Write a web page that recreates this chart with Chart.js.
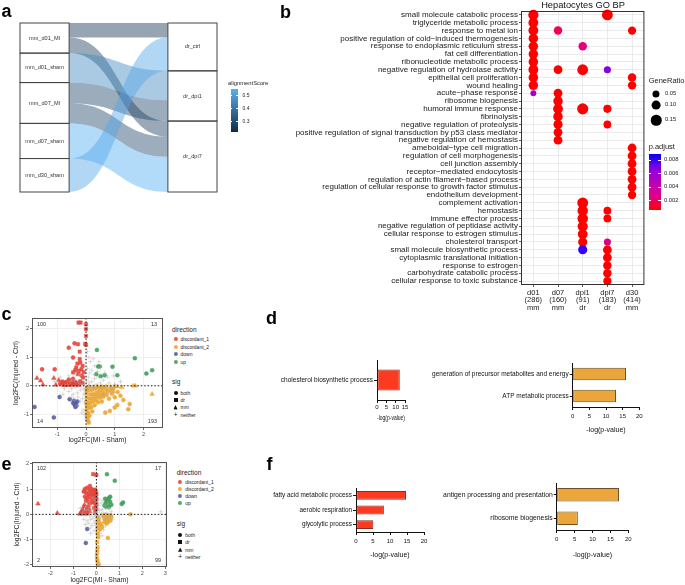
<!DOCTYPE html>
<html>
<head>
<meta charset="utf-8">
<title>Hepatocyte alignment figure</title>
<script src="https://cdn.jsdelivr.net/npm/chart.js@4.4.1/dist/chart.umd.min.js"></script>
<style>
  html, body { margin: 0; padding: 0; background: #fff; }
  #fig { position: relative; width: 685px; height: 585px; overflow: hidden; font-family: "Liberation Sans", Arial, sans-serif; color: #222; }
  #fig canvas { position: absolute; }
  .t { position: absolute; white-space: nowrap; line-height: 1; transform: translateY(-50%); }
  .tag { position: absolute; font-weight: bold; font-size: 18px; line-height: 18px; color: #000; }
  .key { position: absolute; transform: translate(-50%, -50%); line-height: 1; }
</style>
</head>
<body>
<div id="fig"></div>
<script>
// ---------- panel a: alluvial ----------
const leftNodes = ['mm_d01_MI', 'mm_d01_sham', 'mm_d07_MI', 'mm_d07_sham', 'mm_d30_sham'];
const rightNodes = ['dr_ctrl', 'dr_dpi1', 'dr_dpi7'];
const flowFrom = [0, 0, 1, 2, 2, 3, 4];
const flowTo = [0, 2, 1, 1, 2, 2, 0];
const flowSize = [43, 47, 88, 62, 60, 105, 100];
const flowScore = [0.25, 0.27, 0.45, 0.29, 0.30, 0.54, 0.52];
const scoreTicks = [0.5, 0.4, 0.3];

// ---------- panel b: GO dot plot ----------
const bCols = ['d01', 'd07', 'dpi1', 'dpi7', 'd30'];
const bColCounts = ['(286)', '(160)', '(91)', '(183)', '(414)'];
const bColSpecies = ['mm', 'mm', 'dr', 'dr', 'mm'];
const bRows = [
  'small molecule catabolic process', 'triglyceride metabolic process', 'response to metal ion',
  'positive regulation of cold\u2212induced thermogenesis', 'response to endoplasmic reticulum stress',
  'fat cell differentiation', 'ribonucleotide metabolic process', 'negative regulation of hydrolase activity',
  'epithelial cell proliferation', 'wound healing', 'acute\u2212phase response', 'ribosome biogenesis',
  'humoral immune response', 'fibrinolysis', 'negative regulation of proteolysis',
  'positive regulation of signal transduction by p53 class mediator', 'negative regulation of hemostasis',
  'ameboidal\u2212type cell migration', 'regulation of cell morphogenesis', 'cell junction assembly',
  'receptor\u2212mediated endocytosis', 'regulation of actin filament\u2212based process',
  'regulation of cellular response to growth factor stimulus', 'endothelium development',
  'complement activation', 'hemostasis', 'immune effector process', 'negative regulation of peptidase activity',
  'cellular response to estrogen stimulus', 'cholesterol transport', 'small molecule biosynthetic process',
  'cytoplasmic translational initiation', 'response to estrogen', 'carbohydrate catabolic process',
  'cellular response to toxic substance'
];
// [row, column, GeneRatio, p.adjust]
const bDots = [
  [0, 0, 0.14, 0.0002], [0, 3, 0.16, 0.0002],
  [1, 0, 0.13, 0.0002],
  [2, 0, 0.13, 0.0002], [2, 1, 0.09, 0.0014], [2, 4, 0.085, 0.0003],
  [3, 0, 0.12, 0.0002],
  [4, 0, 0.12, 0.0002], [4, 2, 0.09, 0.0023],
  [5, 0, 0.12, 0.0002],
  [6, 0, 0.12, 0.0002],
  [7, 0, 0.13, 0.0002], [7, 1, 0.10, 0.0003], [7, 2, 0.16, 0.0003], [7, 3, 0.05, 0.0068],
  [8, 0, 0.12, 0.0002], [8, 4, 0.09, 0.0003],
  [9, 0, 0.12, 0.0002], [9, 4, 0.09, 0.0003],
  [10, 0, 0.015, 0.0056], [10, 1, 0.10, 0.0003],
  [11, 1, 0.12, 0.0002],
  [12, 1, 0.13, 0.0002], [12, 2, 0.17, 0.0002], [12, 3, 0.08, 0.0004],
  [13, 1, 0.12, 0.0002],
  [14, 1, 0.11, 0.0002], [14, 3, 0.07, 0.0004],
  [15, 1, 0.10, 0.0003],
  [16, 1, 0.10, 0.0003],
  [17, 4, 0.10, 0.0002], [18, 4, 0.10, 0.0002], [19, 4, 0.10, 0.0002], [20, 4, 0.10, 0.0002],
  [21, 4, 0.10, 0.0002], [22, 4, 0.10, 0.0002], [23, 4, 0.085, 0.0003],
  [24, 2, 0.16, 0.0002],
  [25, 2, 0.15, 0.0002], [25, 3, 0.07, 0.0004],
  [26, 2, 0.15, 0.0002], [26, 3, 0.07, 0.0004],
  [27, 2, 0.14, 0.0002],
  [28, 2, 0.13, 0.0002],
  [29, 2, 0.11, 0.0003], [29, 3, 0.05, 0.0027],
  [30, 2, 0.11, 0.0086], [30, 3, 0.10, 0.0003],
  [31, 3, 0.10, 0.0003], [32, 3, 0.09, 0.0003], [33, 3, 0.09, 0.0003], [34, 3, 0.08, 0.0004]
];
const ratioTicks = [0.05, 0.10, 0.15];
const padjTicks = [0.008, 0.006, 0.004, 0.002];

// ---------- panel c: scatter (MI vs injury, set 1) ----------
const cDiscordant1 = [
  [-0.26, 2.22, 'dr'], [-0.19, 2.22, 'dr'], [0, 2.16, 'dr'], [0, 1.99, 'dr'], [0, 1.75, 'dr'], [-0.03, 1.47, 'dr'],
  [0, 1.44, 'dr'], [-0.4, 1.49, 'both'], [-0.28, 1.46, 'dr'], [-0.6, 1.34, 'both'], [-0.22, 1.2, 'dr'],
  [-0.45, 0.99, 'both'], [-0.22, 0.94, 'dr'], [-0.3, 0.78, 'dr'], [-0.2, 0.82, 'dr'], [-0.12, 0.7, 'dr'],
  [-0.34, 0.64, 'dr'], [-0.16, 0.58, 'dr'], [-1.53, 0.58, 'both'], [-1.09, 0.58, 'both'], [-0.45, 0.47, 'dr'],
  [-0.38, 0.55, 'both'], [-0.25, 0.52, 'dr'], [-0.08, 0.48, 'dr'], [-0.28, 0.41, 'dr'], [-0.15, 0.36, 'dr'],
  [-0.1, 0.29, 'dr'],
  [-1.71, 0.27, 'mm'], [-1.58, 0.18, 'mm'], [-1.5, 0.04, 'mm'], [-1.12, 0.27, 'mm'], [-0.95, 0.2, 'mm'],
  [-1.05, 0.03, 'mm'], [-0.85, 0.08, 'mm'], [-0.78, 0.02, 'mm'], [-0.72, 0.12, 'mm'], [-0.68, 0.02, 'mm'],
  [-0.62, 0.05, 'mm'], [-0.55, 0.15, 'mm'], [-0.48, 0.08, 'mm'], [-0.4, 0.03, 'mm'], [-0.35, 0.12, 'mm'],
  [-0.9, 0.08, 'both'], [-0.82, 0.15, 'both'], [-0.75, 0.1, 'both'], [-0.7, 0.04, 'both'], [-0.65, 0.13, 'both'],
  [-0.6, 0.22, 'both'], [-0.58, 0.06, 'both'], [-0.5, 0.1, 'both'], [-0.45, 0.25, 'both'], [-0.42, 0.14, 'both'],
  [-0.33, 0.06, 'both'], [-0.28, 0.1, 'both'],
  [-0.65, 0.08, 'dr'], [-0.52, 0.04, 'dr'], [-0.38, 0.06, 'dr'], [-0.25, 0.04, 'dr'], [-0.2, 0.16, 'dr'], [-0.12, 0.1, 'dr']
];
const cDiscordant2 = [
  [0.02, -0.1, 'dr'], [0.02, -0.25, 'dr'], [0.03, -0.4, 'dr'], [0.02, -0.55, 'dr'], [0.03, -0.7, 'dr'],
  [0.02, -0.85, 'dr'], [0.04, -1.0, 'dr'], [0.05, -1.12, 'dr'], [0.06, -1.22, 'dr'], [0.1, -1.29, 'dr'],
  [0.08, -0.95, 'dr'], [0.1, -0.78, 'dr'], [0.1, -0.6, 'dr'], [0.12, -0.45, 'dr'], [0.15, -0.3, 'dr'], [0.08, -0.15, 'dr'],
  [0.2, -0.15, 'both'], [0.3, -0.1, 'both'], [0.4, -0.08, 'both'], [0.5, -0.05, 'both'], [0.6, -0.06, 'both'],
  [0.25, -0.3, 'both'], [0.35, -0.25, 'both'], [0.45, -0.2, 'both'], [0.55, -0.15, 'both'], [0.7, -0.12, 'both'],
  [0.2, -0.45, 'both'], [0.3, -0.4, 'both'], [0.4, -0.35, 'both'], [0.5, -0.3, 'both'], [0.62, -0.25, 'both'],
  [0.75, -0.2, 'both'], [0.85, -0.15, 'both'], [0.15, -0.6, 'both'], [0.25, -0.55, 'both'], [0.35, -0.5, 'both'],
  [0.48, -0.42, 'both'], [0.6, -0.38, 'both'], [0.72, -0.32, 'both'], [0.9, -0.28, 'both'], [0.18, -0.75, 'both'],
  [0.3, -0.68, 'both'], [0.42, -0.58, 'both'], [0.8, -0.45, 'both'], [1.0, -0.4, 'both'], [1.2, -0.35, 'both'],
  [1.1, -0.22, 'both'], [0.95, -0.1, 'both'], [0.22, -0.9, 'both'], [0.12, -1.05, 'both'], [0.55, -0.55, 'both'],
  [1.3, -0.5, 'both'], [1.09, -0.67, 'both'], [1.52, -0.64, 'both'], [1.47, -0.82, 'both'], [0.67, -0.94, 'both'],
  [0.83, -0.88, 'both'], [1.0, -0.76, 'both'],
  [0.1, -0.03, 'mm'], [0.25, -0.04, 'mm'], [0.4, -0.02, 'mm'], [0.55, -0.03, 'mm'], [0.7, -0.02, 'mm'],
  [0.85, -0.04, 'mm'], [1.0, -0.02, 'mm'], [1.1, -0.03, 'mm'], [1.25, -0.05, 'mm'], [1.64, 0, 'mm'],
  [1.72, 0, 'mm'], [2.3, -0.29, 'mm'], [0.95, -0.2, 'mm'], [0.6, -0.3, 'mm']
];
const cDown = [
  [-1.79, -0.74, 'both'], [-1.12, -1.11, 'both'], [-0.92, -0.39, 'both'], [-0.57, -0.47, 'both'], [-0.42, -0.52, 'both'],
  [-0.38, -0.58, 'both'], [-0.35, -0.62, 'both'], [-0.4, -0.66, 'both'], [-0.33, -0.7, 'both'], [-0.37, -0.74, 'both'],
  [-0.3, -0.55, 'both'], [-0.45, -0.6, 'both']
];
const cUp = [
  [0.38, 1.26, 'both'], [0.42, 0.68, 'both'], [0.48, 0.68, 'both'], [0.92, 0.67, 'both'], [1.7, 0.97, 'both'],
  [0.36, 0.41, 'both'], [0.51, 0.34, 'both'], [0.65, 0.37, 'both'], [1.09, 0.37, 'both'], [2.1, 0.43, 'both'], [2.3, 0.55, 'both']
];
const cNeither = [
  [-0.05, 0.05], [0.05, -0.05], [0.1, 0.1], [-0.1, -0.1], [0.15, -0.02], [-0.15, 0.02], [0.02, 0.18], [-0.02, -0.18],
  [0.2, 0.15], [-0.2, -0.15], [0.25, -0.1], [-0.25, 0.1], [0.08, 0.3], [-0.08, -0.3], [0.3, 0.25], [-0.3, -0.25],
  [0.35, 0.05], [-0.35, -0.05], [0.12, 0.45], [-0.12, -0.45], [0.4, -0.2], [-0.4, 0.2], [0.45, 0.3], [-0.45, -0.3],
  [0.05, 0.6], [-0.05, -0.6], [0.5, 0.1], [-0.5, -0.1], [0.2, 0.55], [-0.2, -0.55], [0.55, -0.1], [-0.55, 0.15],
  [0.3, 0.7], [-0.3, -0.7], [0.6, 0.2], [-0.6, -0.2], [0.15, 0.85], [-0.1, -0.85], [0.7, -0.05], [-0.65, 0.05],
  [0.4, 0.5], [-0.4, -0.5], [0.1, 1.0], [-0.05, -1.0], [0.8, 0.1], [-0.75, -0.1], [0.25, 0.95], [0.0, -1.15],
  [0.9, -0.1], [0.5, 0.65], [0.35, -0.4], [-0.35, 0.4], [0.65, 0.45], [0.05, 1.2], [-0.15, -0.95], [1.0, 0.05],
  [-0.9, 0.3], [0.75, 0.3], [-0.2, 0.35], [0.18, -0.35], [0.28, 0.4], [-0.28, -0.4], [0.85, -0.25], [0.6, -0.3],
  [-0.6, 0.35], [0.45, 0.85], [-0.5, -0.4], [0.12, -0.7], [-1.1, 0.15], [1.2, 0.15], [0.95, 0.35], [-0.8, -0.3]
];
const cCounts = ['100', '13', '14', '193'];

// ---------- panel d: enrichment bars ----------
const dLeftTerms = ['cholesterol biosynthetic process'];
const dLeftVals = [12.2];
const dRightTerms = ['generation of precursor metabolites and energy', 'ATP metabolic process'];
const dRightVals = [16.0, 13.0];

// ---------- panel e: scatter (set 2) ----------
const eDiscordant1 = [
  [-0.14, 1.59, 'dr'], [0, 1.56, 'dr'], [-0.02, 0.9, 'dr'], [0, 0.8, 'dr'], [-0.03, 0.7, 'dr'], [0, 0.6, 'dr'],
  [-0.02, 0.5, 'dr'], [0, 0.4, 'dr'], [-0.03, 0.3, 'dr'], [0, 0.2, 'dr'], [-0.05, 0.1, 'dr'], [-0.08, 0.85, 'dr'],
  [-0.1, 0.65, 'dr'], [-0.07, 0.45, 'dr'], [-0.1, 0.25, 'dr'], [-0.12, 0.75, 'dr'], [-0.06, 0.98, 'dr'],
  [-0.5, 1.0, 'both'], [-0.4, 1.05, 'both'], [-0.3, 0.95, 'both'], [-0.22, 1.0, 'both'], [-0.45, 0.85, 'both'],
  [-0.35, 0.8, 'both'], [-0.25, 0.85, 'both'], [-0.18, 0.78, 'both'], [-0.5, 0.7, 'both'], [-0.4, 0.65, 'both'],
  [-0.3, 0.7, 'both'], [-0.2, 0.6, 'both'], [-0.45, 0.55, 'both'], [-0.35, 0.5, 'both'], [-0.25, 0.45, 'both'],
  [-0.15, 0.5, 'both'], [-0.28, 1.12, 'both'], [-0.55, 0.9, 'both'], [-0.15, 0.95, 'both'],
  [-0.72, 0.02, 'mm'], [-0.65, 0.1, 'mm'], [-0.6, 0.2, 'mm'], [-0.55, 0.3, 'mm'], [-0.5, 0.05, 'mm'],
  [-0.45, 0.15, 'mm'], [-0.4, 0.25, 'mm'], [-0.35, 0.35, 'mm'], [-0.38, 0.05, 'mm'], [-0.3, 0.12, 'mm'],
  [-0.52, 0.38, 'mm'], [-0.62, 0.02, 'mm'], [-0.45, 0.02, 'mm'], [-0.32, 0.22, 'mm'], [-0.58, 0.12, 'mm'],
  [-0.68, 0.06, 'mm'], [-2.54, 0.42, 'mm'], [-1.7, 0.05, 'mm']
];
const eDiscordant2 = [
  [0.3, -0.05, 'both'], [0.4, -0.02, 'both'], [0.5, -0.05, 'both'], [0.6, -0.03, 'both'], [0.35, -0.15, 'both'],
  [0.45, -0.12, 'both'], [0.55, -0.18, 'both'], [0.65, -0.1, 'both'], [0.4, -0.25, 'both'], [0.5, -0.3, 'both'],
  [0.6, -0.25, 'both'], [0.45, -0.35, 'both'], [0.35, -0.3, 'both'], [0.2, -0.4, 'both'], [0.25, -0.5, 'both'],
  [0.15, -0.35, 'both'], [0.15, -0.6, 'both'], [0.5, -0.93, 'both'], [1.48, 0, 'both'],
  [0.05, -0.1, 'dr'], [0.1, -0.2, 'dr'], [0.05, -0.3, 'dr'], [0.1, -0.45, 'dr'], [0.05, -0.55, 'dr'],
  [0.05, -0.75, 'dr'], [0.08, -0.9, 'dr'], [0.03, -1.1, 'dr'], [0.05, -1.3, 'dr'], [0.04, -1.45, 'dr'],
  [0.02, -1.6, 'dr'], [0.03, -1.75, 'dr'], [0.05, -1.85, 'dr'], [0.07, -1.95, 'dr'], [0.1, -2.0, 'dr']
];
const eDown = [[-0.4, -0.58, 'both'], [-0.46, -1.13, 'both']];
const eUp = [
  [0.46, 1.59, 'both'], [0.8, 1.33, 'both'], [0.35, 0.35, 'both'], [0.4, 0.45, 'both'], [0.45, 0.55, 'both'],
  [0.5, 0.6, 'both'], [0.55, 0.65, 'both'], [0.6, 0.7, 'both'], [0.38, 0.62, 'both'], [0.5, 0.4, 'both'],
  [0.6, 0.5, 'both'], [0.65, 0.38, 'both'], [0.42, 0.3, 'both'], [0.55, 0.3, 'both'], [1.1, 0.41, 'both'], [1.16, 0.47, 'both']
];
const eNeither = [
  [0, 0], [0.05, 0.08], [-0.05, -0.08], [0.1, -0.05], [-0.1, 0.05], [0.15, 0.15], [-0.15, -0.15], [0.2, -0.1],
  [-0.2, 0.1], [0.05, 0.25], [-0.05, -0.25], [0.25, 0.2], [-0.25, -0.2], [0.3, 0.05], [-0.3, -0.05], [0.1, 0.35],
  [-0.1, -0.35], [0.35, -0.2], [-0.35, 0.2], [0.4, 0.25], [-0.4, -0.25], [0.02, 0.45], [-0.02, -0.45], [0.45, 0.05],
  [-0.45, -0.05], [0.2, 0.45], [-0.2, -0.45], [0.5, -0.15], [-0.5, 0.15], [0.28, 0.55], [-0.28, -0.55], [0.55, 0.2],
  [-0.55, -0.2], [0.1, 0.6], [-0.1, -0.65], [0.6, -0.05], [-0.4, 0.4], [0.4, -0.45], [0.15, -0.75], [-0.15, 0.65],
  [0.3, -0.6], [-0.3, 0.5], [0.65, 0.1], [-0.6, 0.05], [2.8, 0.1], [0.22, 0.02], [-0.22, -0.02], [0.12, -0.22],
  [-0.12, 0.22], [0.33, 0.35], [-0.33, -0.35], [0.48, 0.4], [-0.48, -0.4], [0.05, -0.55], [-0.05, 0.55],
  [0.7, -0.2], [-0.7, 0.25], [0.25, -0.85], [-0.25, -0.75]
];
const eCounts = ['102', '17', '2', '99'];

// ---------- panel f: enrichment bars ----------
const fLeftTerms = ['fatty acid metabolic process', 'aerobic respiration', 'glycolytic process'];
const fLeftVals = [14.7, 8.2, 5.1];
const fRightTerms = ['antigen processing and presentation', 'ribosome biogenesis'];
const fRightVals = [17.4, 5.9];

// ---------- shared ----------
const dirNames = ['discordant_1', 'discordant_2', 'down', 'up'];
const dirColors = ['rgba(228,69,58,0.9)', 'rgba(236,166,48,0.9)', 'rgba(90,93,166,0.9)', 'rgba(65,160,90,0.9)'];
const sigNames = ['both', 'dr', 'mm', 'neither'];
const shapeOf = { both: 'circle', dr: 'rect', mm: 'triangle', neither: 'cross' };
const sizeOf = { both: 2, dr: 2.4, mm: 2.6, neither: 2.3 };

Chart.defaults.font.family = '"Liberation Sans", Arial, sans-serif';
Chart.defaults.color = '#222';
Chart.defaults.animation = false;
Chart.defaults.plugins.legend.display = false;
Chart.defaults.plugins.tooltip.enabled = false;

const fig = document.getElementById('fig');

function canvasAt(left, top, w, h) {
  const c = document.createElement('canvas');
  c.width = w;
  c.height = h;
  c.style.left = left + 'px';
  c.style.top = top + 'px';
  fig.appendChild(c);
  return c;
}

function text(str, x, y, size, extra) {
  const d = document.createElement('div');
  d.className = 't';
  d.textContent = str;
  d.style.left = x + 'px';
  d.style.top = y + 'px';
  d.style.fontSize = size + 'px';
  if (extra) Object.assign(d.style, extra);
  fig.appendChild(d);
  return d;
}

function tag(ch, x, baseline) {
  const d = document.createElement('div');
  d.className = 'tag';
  d.textContent = ch;
  d.style.left = x + 'px';
  d.style.top = (baseline - 15.2) + 'px';
  fig.appendChild(d);
}

function key(shape, x, y, color, s) {
  const d = document.createElement('div');
  d.className = 'key';
  d.style.left = x + 'px';
  d.style.top = y + 'px';
  if (shape === 'neither') {
    d.textContent = '+';
    d.style.fontSize = (s * 2) + 'px';
    d.style.color = color;
  } else {
    d.style.width = s + 'px';
    d.style.height = s + 'px';
    d.style.background = color;
    if (shape === 'both') d.style.borderRadius = '50%';
    if (shape === 'mm') d.style.clipPath = 'polygon(50% 0, 100% 100%, 0 100%)';
  }
  fig.appendChild(d);
}

function box(left, top, w, h, bg) {
  const d = document.createElement('div');
  d.style.cssText = `position:absolute;left:${left}px;top:${top}px;width:${w}px;height:${h}px;background:${bg};`;
  fig.appendChild(d);
}

const frame = {
  id: 'frame',
  afterDraw(chart, args, opts) {
    const { ctx, chartArea: a } = chart;
    ctx.save();
    ctx.strokeStyle = opts.color || '#333';
    ctx.lineWidth = 1;
    ctx.strokeRect(a.left + 0.5, a.top + 0.5, a.right - a.left - 1, a.bottom - a.top - 1);
    ctx.restore();
  }
};

// ---------- panel a ----------
const scoreMin = 0.22, scoreMax = 0.545;
function scoreColor(s, alpha) {
  const t = Math.min(1, Math.max(0, (s - scoreMin) / (scoreMax - scoreMin)));
  const lo = [19, 43, 67], hi = [86, 177, 247];
  const c = lo.map((v, i) => Math.round(v + (hi[i] - v) * t));
  return `rgba(${c[0]},${c[1]},${c[2]},${alpha})`;
}

const half = 0.166;
const alluvial = {
  id: 'alluvial',
  afterDatasetsDraw(chart) {
    const { ctx, scales: { x, y } } = chart;
    const leftTot = leftNodes.map((_, i) => flowSize.reduce((s, v, k) => s + (flowFrom[k] === i ? v : 0), 0));
    const rightTot = rightNodes.map((_, j) => flowSize.reduce((s, v, k) => s + (flowTo[k] === j ? v : 0), 0));
    const leftTop = [], rightTop = [];
    leftTot.reduce((acc, v, i) => { leftTop[i] = acc; return acc + v; }, 0);
    rightTot.reduce((acc, v, j) => { rightTop[j] = acc; return acc + v; }, 0);
    const ids = flowSize.map((_, k) => k);
    const yL = [], yR = [];
    const curL = leftTop.slice(), curR = rightTop.slice();
    ids.slice().sort((a, b) => flowFrom[a] - flowFrom[b] || flowTo[a] - flowTo[b])
      .forEach(k => { yL[k] = curL[flowFrom[k]]; curL[flowFrom[k]] += flowSize[k]; });
    ids.slice().sort((a, b) => flowTo[a] - flowTo[b] || flowFrom[a] - flowFrom[b])
      .forEach(k => { yR[k] = curR[flowTo[k]]; curR[flowTo[k]] += flowSize[k]; });

    const x0 = x.getPixelForValue(half), x1 = x.getPixelForValue(1 - half), xm = (x0 + x1) / 2;
    ctx.save();
    ids.forEach(k => {
      const a0 = y.getPixelForValue(yL[k]), a1 = y.getPixelForValue(yL[k] + flowSize[k]);
      const b0 = y.getPixelForValue(yR[k]), b1 = y.getPixelForValue(yR[k] + flowSize[k]);
      ctx.beginPath();
      ctx.moveTo(x0, a0);
      ctx.bezierCurveTo(xm, a0, xm, b0, x1, b0);
      ctx.lineTo(x1, b1);
      ctx.bezierCurveTo(xm, b1, xm, a1, x0, a1);
      ctx.closePath();
      ctx.fillStyle = scoreColor(flowScore[k], 0.45);
      ctx.fill();
    });

    ctx.strokeStyle = '#444';
    ctx.lineWidth = 1;
    ctx.fillStyle = '#333';
    ctx.font = '5.6px "Liberation Sans", Arial';
    ctx.textAlign = 'center';
    ctx.textBaseline = 'middle';
    const column = (names, tops, tots, cx) => names.forEach((n, i) => {
      const l = x.getPixelForValue(cx - half), r = x.getPixelForValue(cx + half);
      const t = y.getPixelForValue(tops[i]), b = y.getPixelForValue(tops[i] + tots[i]);
      ctx.strokeRect(l, t, r - l, b - t);
      ctx.fillText(n, (l + r) / 2, (t + b) / 2);
    });
    column(leftNodes, leftTop, leftTot, 0);
    column(rightNodes, rightTop, rightTot, 1);
    ctx.restore();
  }
};

new Chart(canvasAt(0, 0, 280, 230), {
  type: 'scatter',
  data: { datasets: [{ data: [] }] },
  options: {
    responsive: false,
    layout: { padding: { left: 20, right: 63, top: 23, bottom: 38 } },
    scales: {
      x: { type: 'linear', min: -half, max: 1 + half, display: false },
      y: { type: 'linear', min: 0, max: flowSize.reduce((s, v) => s + v, 0), reverse: true, display: false }
    }
  },
  plugins: [alluvial]
});

text('alignmentScore', 228, 84.3, 5.8);
box(230.7, 89, 7.3, 43, 'linear-gradient(to top, #132B43, #56B1F7)');
scoreTicks.forEach(s => {
  const yy = 89 + (scoreMax - s) / (scoreMax - scoreMin) * 43;
  box(230.7, yy - 0.4, 1.6, 0.8, '#fff');
  box(236.4, yy - 0.4, 1.6, 0.8, '#fff');
  text(s.toFixed(1), 242.5, yy, 5);
});

// ---------- panel b ----------
const pMin = 0.0006, pMax = 0.0089;
function padjColor(p) {
  const t = Math.min(1, Math.max(0, (p - pMin) / (pMax - pMin)));
  const r = Math.round(255 * Math.pow(1 - t, 1 / 2.2));
  const b = Math.round(255 * Math.pow(t, 1 / 2.2));
  return `rgb(${r},0,${b})`;
}
const ratioRadius = g => 2.7 + 17 * g;

const bData = bDots.map(d => ({ x: bCols[d[1]], y: bRows[d[0]], g: d[2], p: d[3] }));
const bGrid = { color: '#e6e6e6', lineWidth: 0.8, tickColor: '#333', tickLength: 2 };

new Chart(canvasAt(280, 0, 370, 318), {
  type: 'scatter',
  data: {
    datasets: [{
      data: bData,
      pointRadius: c => c.raw ? ratioRadius(c.raw.g) : 3,
      pointHoverRadius: c => c.raw ? ratioRadius(c.raw.g) : 3,
      backgroundColor: c => c.raw ? padjColor(c.raw.p) : 'red',
      borderWidth: 0
    }]
  },
  options: {
    responsive: false,
    layout: { padding: { top: 11, right: 5, left: 0, bottom: 0 } },
    scales: {
      x: {
        type: 'category', labels: bCols, offset: true, grid: bGrid, border: { display: false },
        ticks: {
          autoSkip: false, maxRotation: 0, color: '#1a1a1a', padding: 2,
          font: { size: 7.5, lineHeight: 1.0 },
          callback: (v, i) => [bCols[i], bColCounts[i], bColSpecies[i]]
        },
        afterFit: s => { s.height = 33; }
      },
      y: {
        type: 'category', labels: bRows, offset: true, grid: bGrid, border: { display: false },
        ticks: { autoSkip: false, color: '#1a1a1a', padding: 1, font: { size: 8 } },
        afterFit: s => { s.width = 241; }
      }
    },
    plugins: { frame: { color: '#333' } }
  },
  plugins: [frame]
});

text('Hepatocytes GO BP', 583, 5.5, 9.3, { transform: 'translate(-50%, -50%)', color: '#111' });
text('GeneRatio', 648.7, 81, 7.5);
const ratioY = [94, 105.3, 120];
ratioTicks.forEach((g, i) => {
  key('both', 656, ratioY[i], '#000', 2 * ratioRadius(g));
  text(g.toFixed(2), 665, ratioY[i], 5.8);
});
text('p.adjust', 648.7, 147, 7.5);
const gradStops = [0, 0.25, 0.5, 0.75, 1].map(t => `${padjColor(pMin + t * (pMax - pMin))} ${t * 100}%`).join(', ');
box(648.7, 154, 12, 56, `linear-gradient(to top, ${gradStops})`);
padjTicks.forEach(p => {
  const yy = 154 + (pMax - p) / (pMax - pMin) * 56;
  box(648.7, yy - 0.4, 2.4, 0.8, '#fff');
  box(658.3, yy - 0.4, 2.4, 0.8, '#fff');
  text(p.toFixed(3), 664, yy, 5.8);
});

// ---------- panels c and e ----------
const quadrants = {
  id: 'quadrants',
  afterDatasetsDraw(chart, args, opts) {
    const { ctx, chartArea: a, scales: { x, y } } = chart;
    const x0 = x.getPixelForValue(0), y0 = y.getPixelForValue(0);
    ctx.save();
    ctx.strokeStyle = '#111';
    ctx.lineWidth = 1;
    ctx.setLineDash([1.4, 2]);
    ctx.beginPath();
    ctx.moveTo(x0, a.top); ctx.lineTo(x0, a.bottom);
    ctx.moveTo(a.left, y0); ctx.lineTo(a.right, y0);
    ctx.stroke();
    ctx.setLineDash([]);
    ctx.fillStyle = '#333';
    ctx.font = '5.5px "Liberation Sans", Arial';
    ctx.textBaseline = 'middle';
    const [tl, tr, bl, br] = opts.counts;
    ctx.textAlign = 'left';
    ctx.fillText(tl, a.left + 5, a.top + 6);
    ctx.fillText(bl, a.left + 5, a.bottom - 7);
    ctx.textAlign = 'right';
    ctx.fillText(tr, a.right - 6, a.top + 6);
    ctx.fillText(br, a.right - 6, a.bottom - 7);
    ctx.restore();
  }
};

function volcano(cv, groups, xr, yr, counts, lay) {
  const datasets = [{
    data: groups.neither.map(p => ({ x: p[0], y: p[1], s: 'neither' })),
    pointStyle: 'cross', pointRadius: sizeOf.neither, borderColor: 'rgba(170,170,170,0.5)', borderWidth: 0.8
  }].concat(groups.dirs.map((pts, i) => ({
    data: pts.map(p => ({ x: p[0], y: p[1], s: p[2] })),
    pointStyle: c => c.raw ? shapeOf[c.raw.s] : 'circle',
    pointRadius: c => c.raw ? sizeOf[c.raw.s] : 2,
    backgroundColor: dirColors[i], borderColor: dirColors[i], borderWidth: 0.5
  })));
  const grid = { color: '#ebebeb', lineWidth: 0.8, tickColor: '#444', tickLength: 2 };
  return new Chart(cv, {
    type: 'scatter',
    data: { datasets },
    options: {
      responsive: false,
      layout: { padding: { left: lay.padL, top: lay.padT, right: lay.padR, bottom: 0 } },
      scales: {
        x: {
          type: 'linear', min: xr[0], max: xr[1], grid, border: { display: false },
          ticks: { stepSize: 1, includeBounds: false, color: '#4d4d4d', padding: 1, font: { size: 5.5 } },
          title: { display: true, text: 'log2FC(MI - Sham)', color: '#222', font: { size: 6.8 }, padding: { top: 0, bottom: 1 } },
          afterFit: s => { s.height = lay.xh; }
        },
        y: {
          type: 'linear', min: yr[0], max: yr[1], grid, border: { display: false },
          ticks: { stepSize: 1, includeBounds: false, color: '#4d4d4d', padding: 1, font: { size: 5.5 } },
          title: { display: true, text: 'log2FC(Injured - Ctrl)', color: '#222', font: { size: 6.8 }, padding: { top: 0, bottom: 0 } },
          afterFit: s => { s.width = lay.yw; }
        }
      },
      plugins: { frame: { color: '#555' }, quadrants: { counts } }
    },
    plugins: [frame, quadrants]
  });
}

volcano(canvasAt(0, 305, 170, 140),
  { neither: cNeither, dirs: [cDiscordant1, cDiscordant2, cDown, cUp] },
  [-1.88, 2.68], [-1.48, 2.38], cCounts,
  { padL: 12, yw: 20, padT: 13, padR: 7, xh: 17 });

volcano(canvasAt(0, 450, 175, 135),
  { neither: eNeither, dirs: [eDiscordant1, eDiscordant2, eDown, eUp] },
  [-2.8, 3.07], [-2.08, 2.07], eCounts,
  { padL: 13.5, yw: 18.5, padT: 12, padR: 8, xh: 18 });

function volcanoLegend(x, dirY, dirStep, sigY, sigStep) {
  text('direction', x, dirY, 6.5);
  dirNames.forEach((n, i) => {
    const yy = dirY + 9.3 + i * dirStep;
    key('both', x + 3.5, yy, dirColors[i], 4.2);
    text(n, x + 8.5, yy, 5);
  });
  text('sig', x, sigY, 6.5);
  sigNames.forEach((n, i) => {
    const yy = sigY + 11 + i * sigStep;
    key(n, x + 3.5, yy, '#111', n === 'mm' ? 4.6 : (n === 'neither' ? 3.2 : 4));
    text(n, x + 8.5, yy, 5);
  });
}
volcanoLegend(172, 330, 7.5, 382, 7.2);
volcanoLegend(176.7, 472.7, 7, 524, 7.4);

// ---------- panels d and f ----------
function hbar(cv, terms, vals, max, fill, edge, lay) {
  const axisGrid = { drawOnChartArea: false, tickLength: 3, tickColor: '#111', offset: false };
  return new Chart(cv, {
    type: 'bar',
    data: {
      labels: terms,
      datasets: [{
        data: vals, backgroundColor: fill, borderColor: edge, borderWidth: 1,
        borderSkipped: false, barPercentage: lay.bar, categoryPercentage: 1
      }]
    },
    options: {
      indexAxis: 'y',
      responsive: false,
      layout: { padding: { top: lay.padT, right: lay.padR, left: 0, bottom: 0 } },
      scales: {
        x: {
          type: 'linear', min: 0, max,
          ticks: { stepSize: 5, autoSkip: false, maxRotation: 0, minRotation: 0, color: '#111', padding: lay.tickPad, font: { size: 6 } },
          grid: axisGrid, border: { color: '#111', width: 1 },
          title: { display: true, text: '-log(p-value)', color: '#111', font: { size: lay.tfont }, padding: { top: 0, bottom: 1 } },
          afterFit: s => { s.height = lay.xh; }
        },
        y: {
          ticks: { color: '#111', padding: 1, font: { size: lay.lfont } },
          grid: axisGrid, border: { color: '#111', width: 1 },
          afterFit: s => { s.width = lay.yw; }
        }
      }
    }
  });
}

const redFill = '#fb3a1f', redEdge = '#8c2a1c';
const orangeFill = '#eca53a', orangeEdge = '#6b5124';

hbar(canvasAt(270, 355, 145, 68), dLeftTerms, dLeftVals, 15, redFill, redEdge,
  { yw: 107, padT: 5, padR: 10, xh: 23, bar: 0.53, tickPad: 1, tfont: 6.5, lfont: 6.5 });
hbar(canvasAt(420, 355, 230, 80), dRightTerms, dRightVals, 20, orangeFill, orangeEdge,
  { yw: 152.7, padT: 8, padR: 10.7, xh: 28, bar: 0.56, tickPad: 3, tfont: 7, lfont: 6.5 });
hbar(canvasAt(260, 480, 175, 80), fLeftTerms, fLeftVals, 20, redFill, redEdge,
  { yw: 96, padT: 8, padR: 11, xh: 28, bar: 0.6, tickPad: 3, tfont: 7, lfont: 6.4 });
hbar(canvasAt(425, 475, 220, 85), fRightTerms, fRightVals, 20, orangeFill, orangeEdge,
  { yw: 131.7, padT: 8, padR: 16.7, xh: 30, bar: 0.57, tickPad: 3, tfont: 7, lfont: 6.8 });

// ---------- panel letters ----------
tag('a', 1.5, 16.7);
tag('b', 280, 18);
tag('c', 1.5, 320);
tag('d', 266, 324);
tag('e', 1.5, 470);
tag('f', 266.5, 470);
</script>
</body>
</html>
